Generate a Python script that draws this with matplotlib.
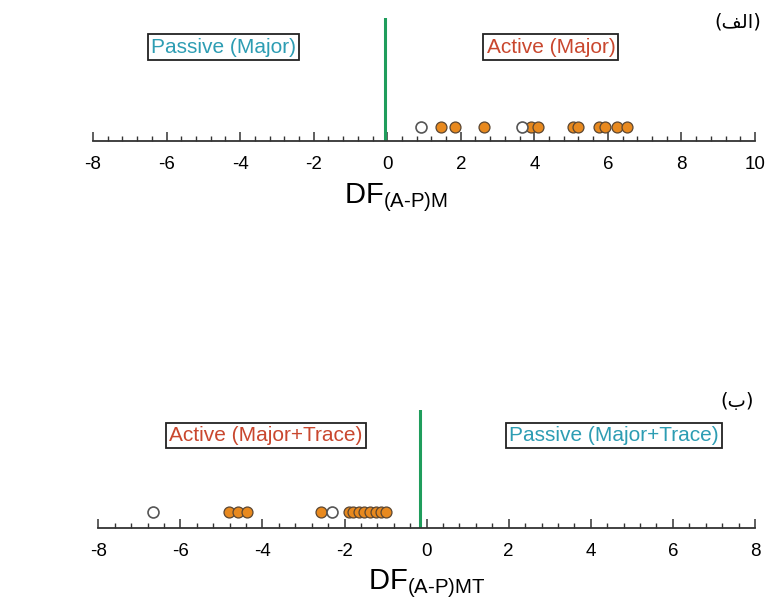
import matplotlib
matplotlib.use("Agg")
import matplotlib.pyplot as plt
from matplotlib.ticker import MultipleLocator

plt.rcParams['font.family'] = ['Liberation Sans', 'DejaVu Sans']
plt.rcParams['mathtext.fontset'] = 'custom'
plt.rcParams['mathtext.rm'] = 'Liberation Sans'
plt.rcParams['mathtext.it'] = 'Liberation Sans'
plt.rcParams['axes.unicode_minus'] = False

# ---- data ----
top_filled = [1.47, 1.84, 2.63, 3.91, 4.10, 5.04, 5.19, 5.77, 5.92, 6.26, 6.53]
top_open = [0.92, 3.66]
top_divider = -0.07
top_xlim = (-8, 10)
top_left_label = "Passive (Major)"
top_right_label = "Active (Major)"
top_xlabel = r"$\mathrm{DF}_{\mathrm{(A\text{-}P)M}}$"
top_panel_tag = "(\uFED2\uFEDF\uFE8D)"

bot_filled = [-4.81, -4.59, -4.37, -2.58, -1.88, -1.79, -1.66, -1.53, -1.38, -1.23, -1.11, -0.99]
bot_open = [-6.67, -2.31]
bot_divider = -0.16
bot_xlim = (-8, 8)
bot_left_label = "Active (Major+Trace)"
bot_right_label = "Passive (Major+Trace)"
bot_xlabel = r"$\mathrm{DF}_{\mathrm{(A\text{-}P)MT}}$"
bot_panel_tag = "(\u0628)"

TEAL = "#2d9db3"
RED = "#c9472e"
ORANGE = "#e8891e"
GREEN = "#1f9d5c"

fig = plt.figure(figsize=(7.66, 6.04), dpi=100)


def panel(rect, filled, opened, divider, xlim, left_lab, left_col, left_x,
          right_lab, right_col, right_x, xlabel, label_x, tag, tag_xy, pt_y, box_y):
    ax = fig.add_axes(rect)
    ax.set_xlim(*xlim)
    ax.set_ylim(0, 1)
    for s in ['top', 'left', 'right']:
        ax.spines[s].set_visible(False)
    ax.spines['bottom'].set_linewidth(1.3)
    ax.spines['bottom'].set_color('#333333')
    ax.yaxis.set_visible(False)
    ax.xaxis.set_major_locator(MultipleLocator(2))
    ax.xaxis.set_minor_locator(MultipleLocator(0.4))
    ax.tick_params(axis='x', which='major', direction='in', length=6.5, width=1.1,
                   color='#333333', labelsize=13.5, pad=11)
    ax.tick_params(axis='x', which='minor', direction='in', length=3.5, width=1.0,
                   color='#333333')
    ax.axvline(divider, ymin=0, ymax=1, color=GREEN, lw=2.2, zorder=2)
    ax.scatter(filled, [pt_y] * len(filled), s=62, facecolor=ORANGE,
               edgecolor='#5a4632', linewidth=0.9, zorder=3, clip_on=False)
    ax.scatter(opened, [pt_y] * len(opened), s=62, facecolor='white',
               edgecolor='#555555', linewidth=1.2, zorder=3, clip_on=False)
    bbox = dict(boxstyle='square,pad=0.15', facecolor='white', edgecolor='#222222', lw=1.3)
    ax.text(left_x, box_y, left_lab, color=left_col, fontsize=15, ha='center',
            va='center', bbox=bbox, clip_on=False)
    ax.text(right_x, box_y, right_lab, color=right_col, fontsize=15, ha='center',
            va='center', bbox=bbox, clip_on=False)
    ax.set_xlabel(xlabel, fontsize=21, labelpad=6)
    ax.xaxis.set_label_coords(label_x, ax.xaxis.label.get_position()[1])
    fig.text(tag_xy[0], tag_xy[1], tag, fontsize=14, family='DejaVu Sans',
             ha='center', va='center')
    return ax


# top panel
ax1 = panel([93 / 766, 463 / 604, 662 / 766, 123 / 604], top_filled, top_open, top_divider,
            top_xlim, top_left_label, TEAL, -4.45, top_right_label, RED, 4.45,
            top_xlabel, 0.458, top_panel_tag, (738 / 766, 1 - 22 / 604), 0.114, 0.764)
ax1.xaxis.set_label_coords(0.458, -0.33)

# bottom panel
ax2 = panel([98.3 / 766, 76 / 604, 656.7 / 766, 118 / 604], bot_filled, bot_open, bot_divider,
            bot_xlim, bot_left_label, RED, -3.91, bot_right_label, TEAL, 4.57,
            bot_xlabel, 0.5, bot_panel_tag, (737 / 766, 1 - 402 / 604), 0.138, 0.784)
ax2.xaxis.set_label_coords(0.5, -0.33)

fig.savefig("out.png", dpi=100)
